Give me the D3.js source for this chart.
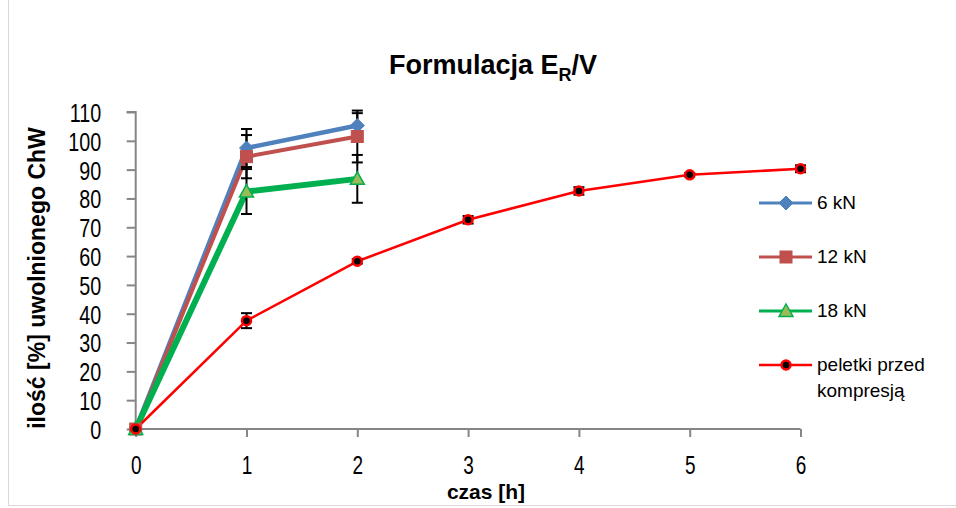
<!DOCTYPE html>
<html>
<head>
<meta charset="utf-8">
<script src="https://cdn.jsdelivr.net/npm/d3@7"></script>
<style>
  html, body { margin: 0; padding: 0; background: #fff; }
  svg { display: block; }
  text { font-family: "Liberation Sans", Arial, sans-serif; fill: #000; }
</style>
</head>
<body>
<svg id="chart" width="956" height="508"></svg>
<script>
// Release profile of ChW (%) over time (h)
const hours = [0, 1, 2, 3, 4, 5, 6];
const xTicks = [0, 1, 2, 3, 4, 5, 6];
const yTicks = [0, 10, 20, 30, 40, 50, 60, 70, 80, 90, 100, 110];

const kN6 = [0, 97.5, 105.3];
const kN6Err = [0, 6.6, 4.3];
const kN12 = [0, 94.5, 101.5];
const kN12Err = [0, 7.5, 9.0];
const kN18 = [0, 82.4, 86.8];
const kN18Err = [0, 7.8, 8.3];
const pellets = [0, 37.6, 58.2, 72.6, 82.6, 88.2, 90.3];
const pelletsErr = [0, 2.6, 0.8, 1.3, 1.3, 0.6, 1.2];

const seriesNames = ["6 kN", "12 kN", "18 kN", "peletki przed kompresją"];

const series = [
  { name: seriesNames[0], values: kN6, err: kN6Err, color: "#4F81BD", width: 4.5, marker: "diamond", fill: "#4F81BD", mstroke: "#4F81BD" },
  { name: seriesNames[1], values: kN12, err: kN12Err, color: "#C0504D", width: 4, marker: "square", fill: "#C0504D", mstroke: "#C0504D" },
  { name: seriesNames[2], values: kN18, err: kN18Err, color: "#00B050", width: 6, marker: "triangle", fill: "#9BBB59", mstroke: "#00B050" },
  { name: seriesNames[3], values: pellets, err: pelletsErr, color: "#FF0000", width: 2.5, marker: "dot", fill: "#000", mstroke: "#FF0000" }
];

const svg = d3.select("#chart");

const x = d3.scaleLinear().domain([0, 6]).range([135.7, 800.5]);
const y = d3.scaleLinear().domain([0, 110]).range([429, 112]);

// chart frame edges
svg.append("line").attr("x1", 8.5).attr("x2", 8.5).attr("y1", 0).attr("y2", 505.5)
  .attr("stroke", "#d9d9d9").attr("stroke-width", 1);
svg.append("line").attr("x1", 8.5).attr("x2", 956).attr("y1", 505.5).attr("y2", 505.5)
  .attr("stroke", "#d9d9d9").attr("stroke-width", 1);

// title
const title = svg.append("text").attr("x", 493).attr("y", 74)
  .attr("text-anchor", "middle").attr("font-weight", "bold").attr("font-size", 27);
title.append("tspan").text("Formulacja E");
title.append("tspan").attr("font-size", 18).attr("dy", 7).text("R");
title.append("tspan").attr("dy", -7).text("/V");

// axes
const narrow = 0.76;
const yAxis = d3.axisLeft(y).tickValues(yTicks).tickSize(9);
const xAxis = d3.axisBottom(x).tickValues(xTicks).tickFormat(d3.format("d")).tickSize(8);

const gy = svg.append("g").attr("transform", `translate(${x(0)},0)`).call(yAxis);
const gx = svg.append("g").attr("transform", `translate(0,${y(0)})`).call(xAxis);
[gx, gy].forEach(g => {
  g.select(".domain").attr("stroke", "#868686").attr("stroke-width", 2);
  g.selectAll(".tick line").attr("stroke", "#868686").attr("stroke-width", 2);
  g.selectAll(".tick text").attr("font-size", 26).attr("fill", "#000");
});
gy.selectAll(".tick text").attr("x", 0).attr("dy", "0.36em")
  .attr("transform", `translate(-34.5,0) scale(${narrow},1)`);
gx.selectAll(".tick text").attr("y", 0).attr("dy", 0).attr("font-size", 25)
  .attr("transform", `translate(0,45) scale(${narrow},1)`);
gy.select(".domain").attr("d", `M-9,${y(110)}H0V${y(0)}`);
gx.select(".domain").attr("d", `M${x(0)},0H${x(6)}`);

// axis titles
svg.append("text").attr("x", 486).attr("y", 499).attr("text-anchor", "middle")
  .attr("font-weight", "bold").attr("font-size", 21).text("czas [h]");
svg.append("text").attr("transform", `translate(45,${278}) rotate(-90)`).attr("text-anchor", "middle")
  .attr("font-weight", "bold").attr("font-size", 23).text("ilość [%] uwolnionego ChW");

const line = d3.line().x((d, i) => x(hours[i])).y(d => y(d));

function drawMarker(g, s, cx, cy) {
  if (s.marker === "diamond") {
    g.append("path").attr("d", `M${cx},${cy - 7}L${cx + 7},${cy}L${cx},${cy + 7}L${cx - 7},${cy}Z`)
      .attr("fill", s.fill).attr("stroke", s.mstroke).attr("stroke-width", 1);
  } else if (s.marker === "square") {
    g.append("rect").attr("x", cx - 6).attr("y", cy - 6).attr("width", 12).attr("height", 12)
      .attr("fill", s.fill).attr("stroke", s.mstroke).attr("stroke-width", 1);
  } else if (s.marker === "triangle") {
    g.append("path").attr("d", `M${cx},${cy - 7}L${cx + 7},${cy + 5.5}L${cx - 7},${cy + 5.5}Z`)
      .attr("fill", s.fill).attr("stroke", s.mstroke).attr("stroke-width", 1.5);
  } else {
    g.append("circle").attr("cx", cx).attr("cy", cy).attr("r", 4.5)
      .attr("fill", s.fill).attr("stroke", s.mstroke).attr("stroke-width", 2.5);
  }
}

// lines
series.forEach(s => {
  svg.append("path").datum(s.values).attr("d", line).attr("fill", "none")
    .attr("stroke", s.color).attr("stroke-width", s.width).attr("stroke-linejoin", "round");
});

// error bars
const eg = svg.append("g").attr("stroke", "#000").attr("stroke-width", 2);
series.forEach(s => {
  s.values.forEach((v, i) => {
    const e = s.err[i];
    if (!e) return;
    const cx = x(hours[i]);
    eg.append("line").attr("x1", cx).attr("x2", cx).attr("y1", y(v + e)).attr("y2", y(v - e));
    eg.append("line").attr("x1", cx - 5.5).attr("x2", cx + 5.5).attr("y1", y(v + e)).attr("y2", y(v + e));
    eg.append("line").attr("x1", cx - 5.5).attr("x2", cx + 5.5).attr("y1", y(v - e)).attr("y2", y(v - e));
  });
});

// markers
series.forEach(s => {
  const g = svg.append("g");
  s.values.forEach((v, i) => drawMarker(g, s, x(hours[i]), y(v)));
});

// legend
const legendRows = [203, 257, 311, 365];
series.forEach((s, i) => {
  const ly = legendRows[i];
  svg.append("line").attr("x1", 759).attr("x2", 812).attr("y1", ly).attr("y2", ly)
    .attr("stroke", s.color).attr("stroke-width", Math.min(s.width, 3));
  drawMarker(svg, s, 786, ly);
  const t = svg.append("text").attr("x", 817).attr("y", ly + 6).attr("font-size", 19);
  if (i === 3) {
    t.append("tspan").attr("x", 817).text("peletki przed");
    t.append("tspan").attr("x", 817).attr("dy", 26).text("kompresją");
  } else {
    t.text(s.name);
  }
});
</script>
</body>
</html>
